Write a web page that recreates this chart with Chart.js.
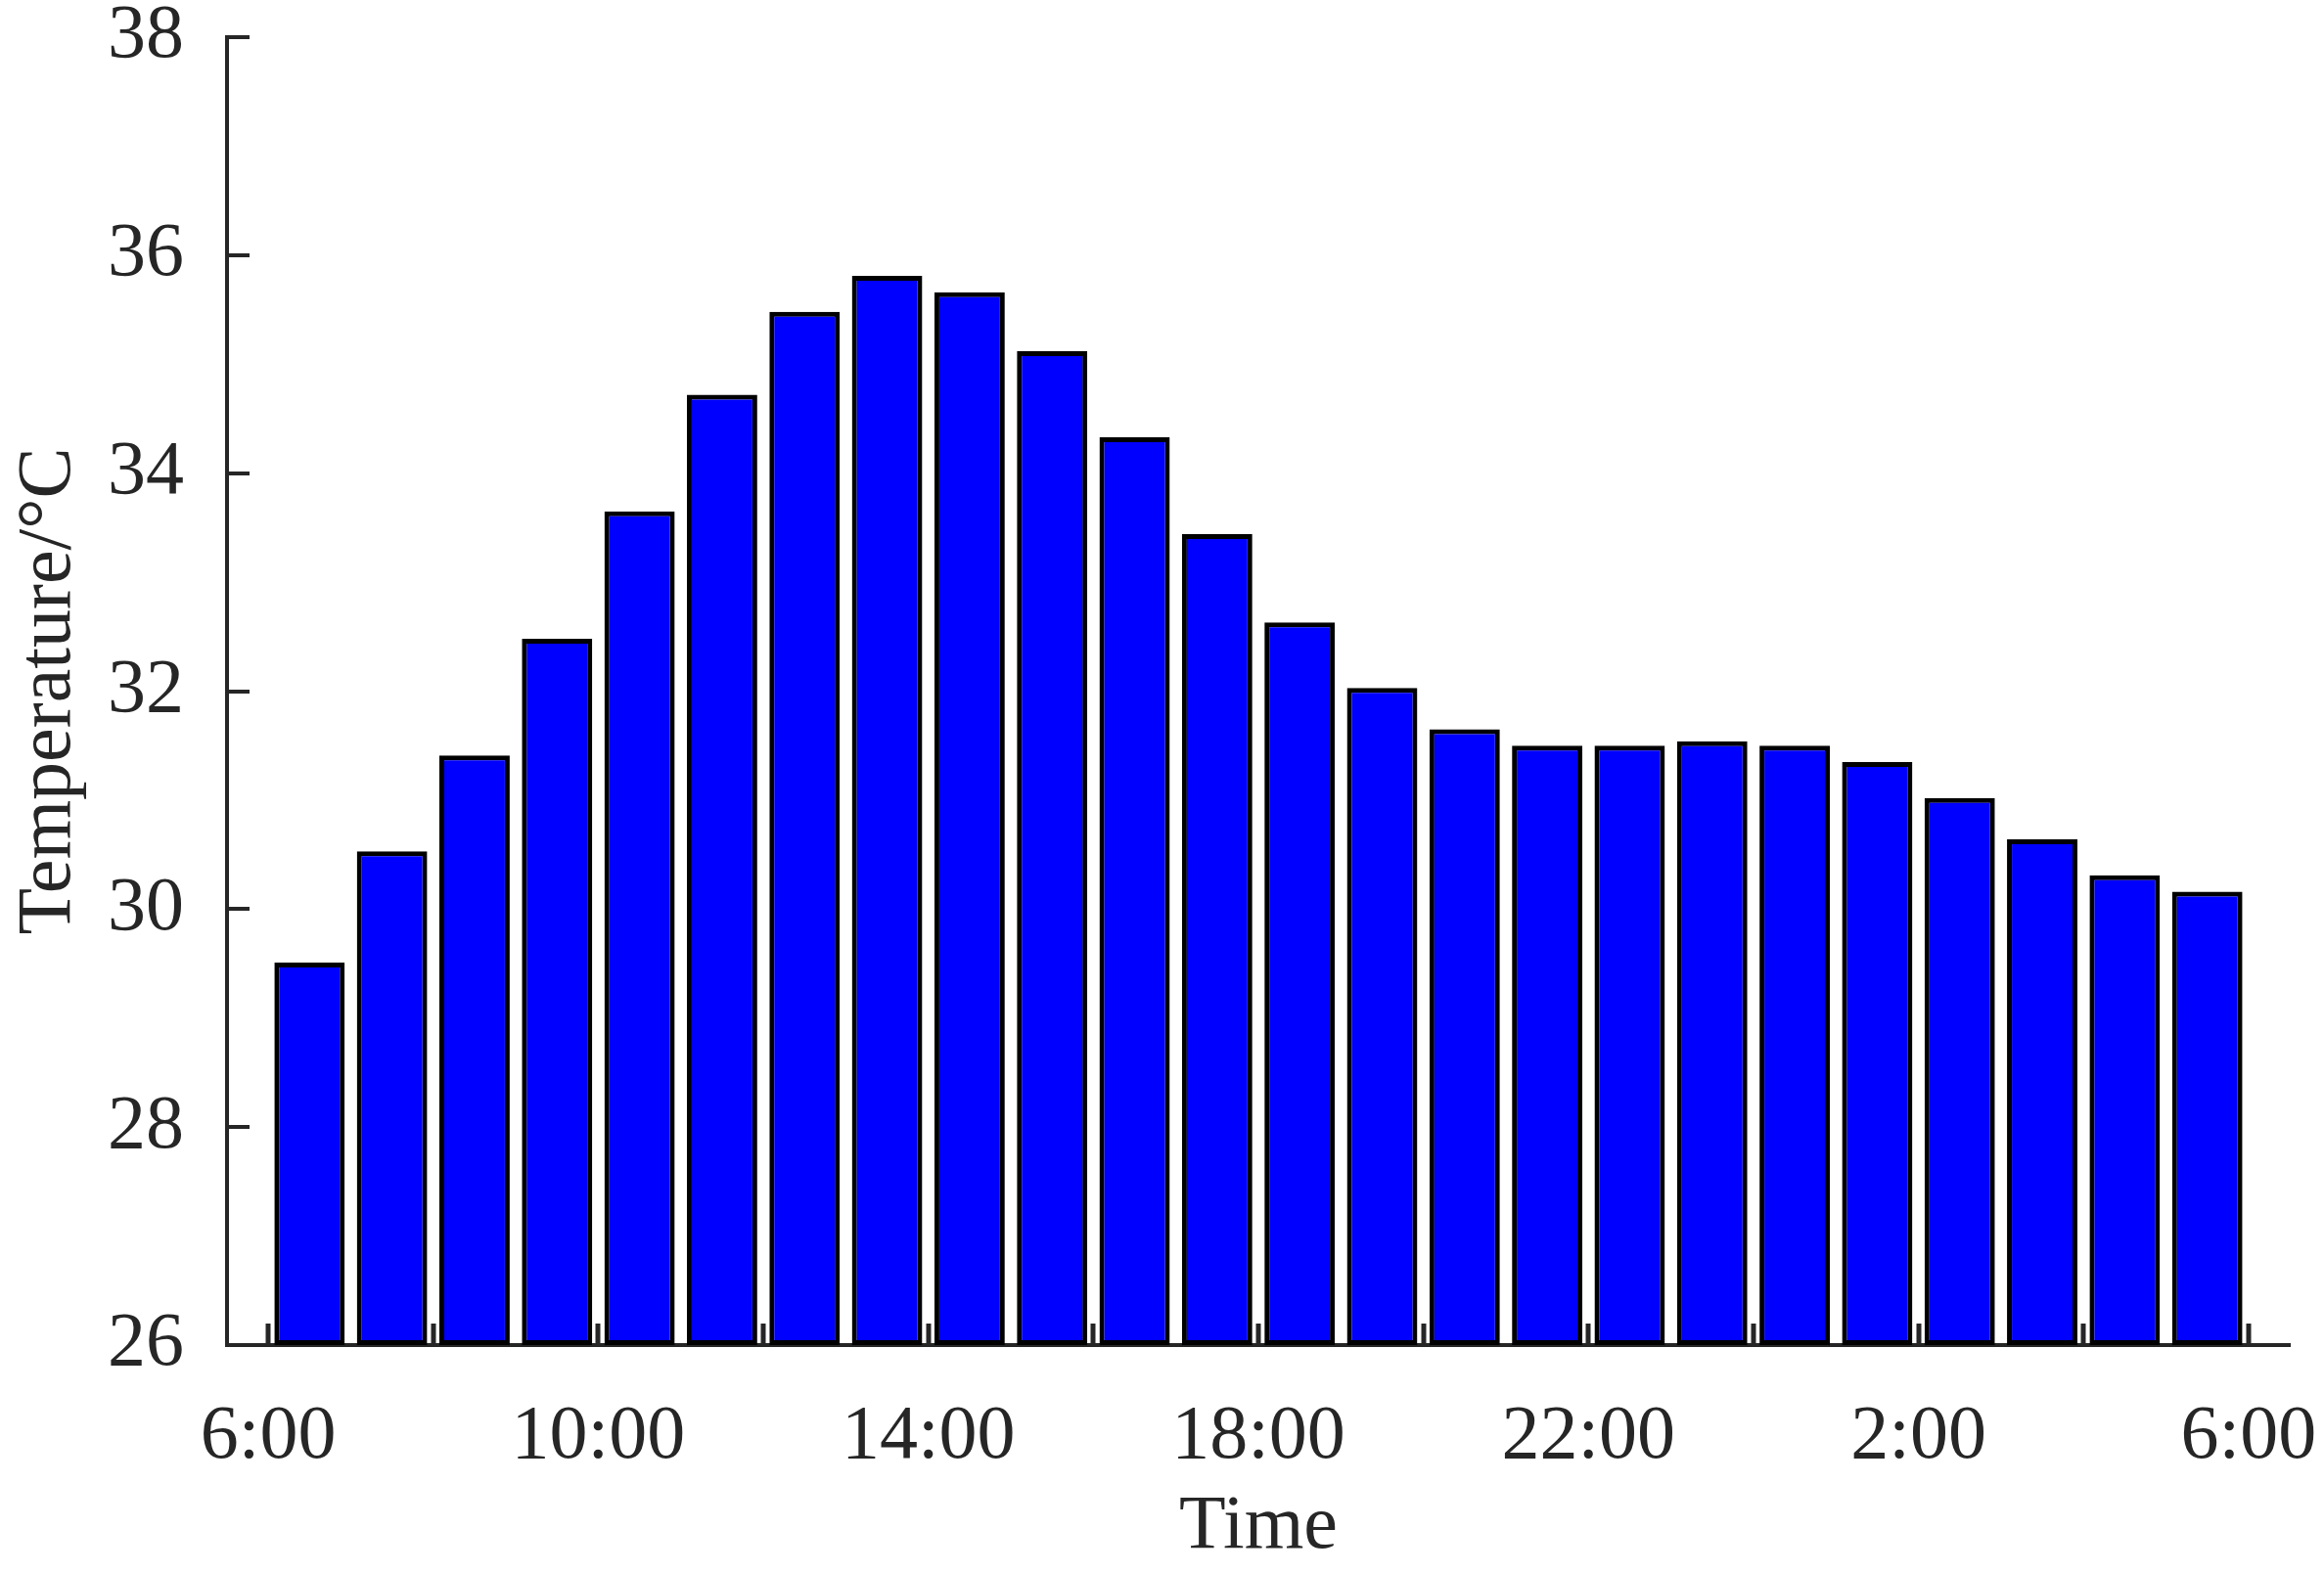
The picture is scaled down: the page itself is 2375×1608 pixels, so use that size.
<!DOCTYPE html>
<html>
<head>
<meta charset="utf-8">
<script src="https://cdn.jsdelivr.net/npm/chart.js@4.4.0/dist/chart.umd.min.js"></script>
<style>
    html, body { margin: 0; padding: 0; background: #fff; }
</style>
</head>
<body>
<canvas id="chart" width="2375" height="1608"></canvas>
<script>
// hours after 6:00, each bar sits in the middle of its hour
const hourMid = [0.5, 1.5, 2.5, 3.5, 4.5, 5.5, 6.5, 7.5, 8.5, 9.5, 10.5, 11.5,
                 12.5, 13.5, 14.5, 15.5, 16.5, 17.5, 18.5, 19.5, 20.5, 21.5, 22.5, 23.5];
const temps = [29.51, 30.53, 31.41, 32.48, 33.65, 34.72, 35.48, 35.81, 35.66, 35.12, 34.33, 33.44,
               32.63, 32.03, 31.65, 31.50, 31.50, 31.54, 31.50, 31.35, 31.02, 30.64, 30.31, 30.16];

const xTickValues = [0, 4, 8, 12, 16, 20, 24];
const xTickLabels = ['6:00', '10:00', '14:00', '18:00', '22:00', '2:00', '6:00'];
const xMinorTicks = [0, 2, 4, 6, 8, 10, 12, 14, 16, 18, 20, 22, 24];
const yTickValues = [26, 28, 30, 32, 34, 36, 38];

const axisColor = '#262626';
const font = { family: "'Liberation Serif', 'Times New Roman', serif", size: 78 };

// ticks point into the plot, so draw them here
const innerTicks = {
    id: 'innerTicks',
    afterDraw(chart) {
        const { ctx, chartArea, scales } = chart;
        ctx.save();
        ctx.strokeStyle = axisColor;
        ctx.beginPath();
        ctx.lineWidth = 5;
        xMinorTicks.forEach((v) => {
            const px = Math.round(scales.x.getPixelForValue(v));
            ctx.moveTo(px, chartArea.bottom);
            ctx.lineTo(px, chartArea.bottom - 22);
        });
        ctx.stroke();
        ctx.beginPath();
        ctx.lineWidth = 4;
        yTickValues.forEach((v) => {
            const py = Math.round(scales.y.getPixelForValue(v));
            ctx.moveTo(chartArea.left, py);
            ctx.lineTo(chartArea.left + 23, py);
        });
        ctx.stroke();
        ctx.restore();
    },
};

const ctx = document.getElementById('chart').getContext('2d');
new Chart(ctx, {
    type: 'bar',
    data: {
        datasets: [
            {
                data: hourMid.map((h, i) => ({ x: h, y: temps[i] })),
                backgroundColor: '#0000ff',
                borderColor: '#000000',
                borderWidth: 5,
                borderSkipped: false,
                base: 26,
                barPercentage: 0.853,
                categoryPercentage: 1,
            },
        ],
    },
    options: {
        responsive: false,
        animation: false,
        devicePixelRatio: 1,
        layout: { padding: { top: 38, right: 35, left: 0, bottom: 0 } },
        plugins: {
            legend: { display: false },
            tooltip: { enabled: false },
        },
        scales: {
            x: {
                type: 'linear',
                offset: false,
                min: -0.5,
                max: 24.5,
                afterBuildTicks: (scale) => {
                    scale.ticks = xTickValues.map((v) => ({ value: v }));
                },
                afterFit: (scale) => {
                    scale.height = 233;
                    scale.paddingLeft = 0;
                    scale.paddingRight = 0;
                },
                ticks: {
                    callback: (value, index) => xTickLabels[index],
                    font: font,
                    color: axisColor,
                    padding: 40,
                    maxRotation: 0,
                    autoSkip: false,
                },
                grid: { display: false, offset: false },
                border: { display: true, color: axisColor, width: 4 },
                title: {
                    display: true,
                    text: 'Time',
                    font: font,
                    color: axisColor,
                    padding: { top: 0, bottom: 0 },
                },
            },
            y: {
                type: 'linear',
                min: 26,
                max: 38,
                afterBuildTicks: (scale) => {
                    scale.ticks = yTickValues.map((v) => ({ value: v }));
                },
                afterFit: (scale) => {
                    scale.width = 232;
                    scale.paddingTop = 0;
                    scale.paddingBottom = 0;
                },
                ticks: {
                    font: { ...font, lineHeight: 1 },
                    color: axisColor,
                    padding: 36,
                },
                grid: { display: false },
                border: { display: true, color: axisColor, width: 4 },
                title: {
                    display: true,
                    text: 'Temperature/°C',
                    font: font,
                    color: axisColor,
                    padding: { top: 4, bottom: 4 },
                },
            },
        },
    },
    plugins: [innerTicks],
});
</script>
</body>
</html>
